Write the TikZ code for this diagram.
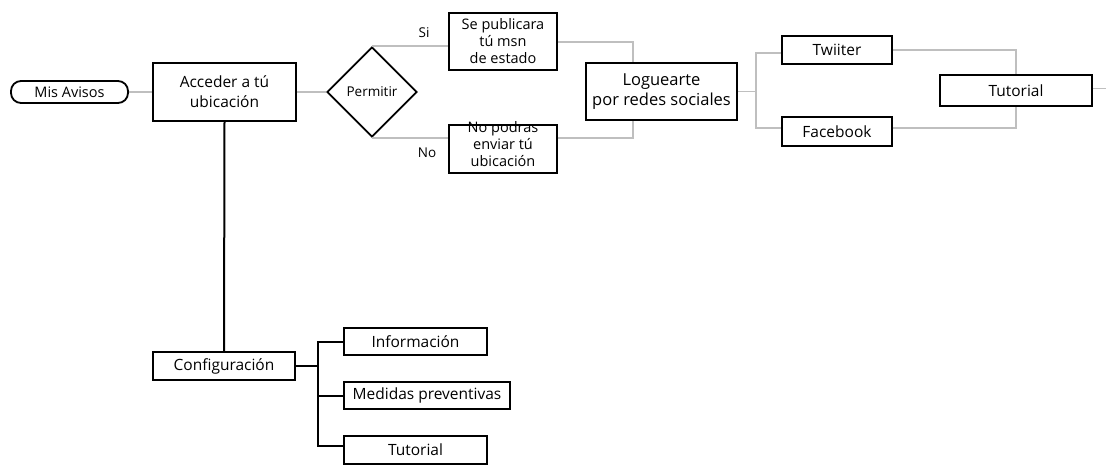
\documentclass[tikz,border=0pt]{standalone}
\usepackage{fontspec}
\setmainfont{Open Sans}
\usetikzlibrary{shapes.geometric,calc}
\begin{document}
\begin{tikzpicture}[x=1pt,y=-1pt,
  box/.style={draw=black, line width=1.8pt, inner sep=0pt, align=center, fill=white},
  pill/.style={box, rounded corners=10pt},
  choice/.style={draw=black, line width=1.8pt, shape=diamond, inner sep=0pt, minimum size=90pt},
  gline/.style={draw=black!25, line width=1.5pt},
  bline/.style={draw=black, line width=2pt},
  lbl/.style={font=\fontsize{13.5}{16}\selectfont, inner sep=0pt},
  big/.style={font=\fontsize{16}{20}\selectfont},
  mid/.style={font=\fontsize{15.5}{18}\selectfont},
  small/.style={font=\fontsize{14.5}{17}\selectfont}
]
\useasboundingbox (0,0) rectangle (1106,468);

% upper flow
\node[pill, minimum width=117pt, minimum height=22pt, font=\fontsize{14.5}{16}\selectfont] (mis) at (69.5,92) {Mis Avisos};
\node[box, big, font=\fontsize{15.5}{20}\selectfont, minimum width=143pt, minimum height=58pt] (acc) at (224.5,92) {Acceder a tú\\ubicación};
\node[choice, font=\fontsize{13.5}{16}\selectfont] (perm) at (372,92) {Permitir};
\node[box, small, minimum width=108pt, minimum height=57pt] (pub) at (503,41.5) {Se publicara\\tú msn\\de estado};
\node[box, minimum width=108pt, minimum height=48pt] (nop) at (503,149) {};
\node[small, inner sep=0pt, align=center] (nopt) at ([yshift=5pt]nop.center) {No podras\\enviar tú\\ubicación};
\node[box, big, font=\fontsize{16.5}{20}\selectfont, minimum width=151pt, minimum height=57pt] (log) at (661.5,91.5) {Loguearte\\por redes sociales};
\node[box, mid, minimum width=110pt, minimum height=28pt] (tw) at (837,50) {Twiiter};
\node[box, mid, minimum width=110pt, minimum height=29pt] (fb) at (837,131.5) {Facebook};
\node[box, mid, minimum width=152pt, minimum height=31pt] (tut1) at (1016,90.5) {Tutorial};
\coordinate (s1) at (756,91.5);
\coordinate (out) at (1106,88.5);

\node[lbl] (si) at (424,33) {Si};
\node[lbl] (no) at (427,153) {No};

% lower flow
\node[box, mid, minimum width=142pt, minimum height=28pt] (conf) at (224,366) {Configuración};
\node[box, mid, minimum width=143pt, minimum height=27pt] (info) at (415.5,341.5) {Información};
\node[box, mid, minimum width=166pt, minimum height=27pt] (med) at (427,395.5) {Medidas preventivas};
\node[box, mid, minimum width=143pt, minimum height=28pt] (tut2) at (415.5,450) {Tutorial};
\coordinate (s2) at (318,366);

% grey connectors
\draw[gline] (mis) -- (acc);
\draw[gline] (acc) -- (perm);
\draw[gline] (perm.north) -- (perm.north -| pub.west);
\draw[gline] (perm.south) -- (perm.south -| nop.west);
\draw[gline] ([yshift=-0.5pt]pub.east) -| ([xshift=-28.5pt]log.north);
\draw[gline] ([yshift=11pt]nop.east) -| ([xshift=-28.5pt]log.south);
\draw[gline] (log.east) -- (s1);
\draw[gline] ([yshift=-3pt]tw.west) -| (s1) |- ([yshift=3.5pt]fb.west);
\draw[gline] (tw.east) -| (tut1.north);
\draw[gline] ([yshift=3.5pt]fb.east) -| (tut1.south);
\draw[gline] ([yshift=2pt]tut1.east) -- (out);

% black connectors
\draw[bline] (acc.south) -- (conf.north);
\draw[bline] (conf.east) -- (s2);
\draw[bline] (info.west) -| (s2) |- ([yshift=4pt]tut2.west);
\draw[bline] (s2 |- med.west) -- (med.west);
\end{tikzpicture}
\end{document}
